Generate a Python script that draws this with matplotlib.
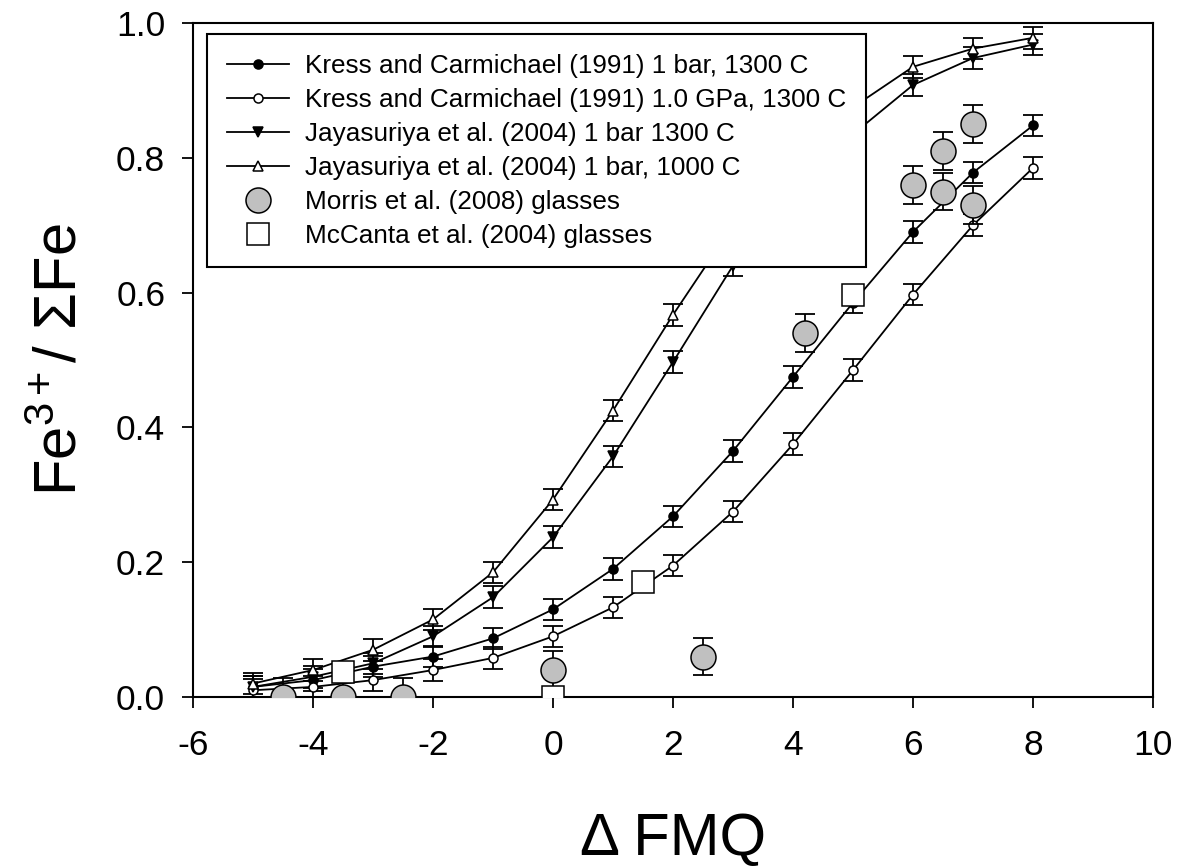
import matplotlib as mpl
mpl.use('Agg')
import matplotlib.pyplot as plt
import numpy as np

plt.rcParams['font.family'] = ['Liberation Sans', 'DejaVu Sans']
plt.rcParams['mathtext.fontset'] = 'custom'
plt.rcParams['mathtext.rm'] = 'Liberation Sans'
plt.rcParams['mathtext.it'] = 'Liberation Sans:italic'
plt.rcParams['axes.unicode_minus'] = False

# Fe3+/sum Fe vs delta FMQ
dfmq = [-5, -4, -3, -2, -1, 0, 1, 2, 3, 4, 5, 6, 7, 8]
kc_1bar = [0.015, 0.025, 0.045, 0.06, 0.087, 0.13, 0.19, 0.268, 0.365, 0.475, 0.585, 0.69, 0.778, 0.848]
kc_1gpa = [0.01, 0.015, 0.025, 0.04, 0.058, 0.09, 0.133, 0.195, 0.275, 0.375, 0.485, 0.597, 0.70, 0.785]
jay_1300 = [0.015, 0.03, 0.05, 0.09, 0.148, 0.237, 0.357, 0.497, 0.64, 0.755, 0.835, 0.908, 0.948, 0.968]
jay_1000 = [0.02, 0.04, 0.07, 0.115, 0.185, 0.293, 0.425, 0.567, 0.70, 0.80, 0.875, 0.935, 0.962, 0.978]
line_err = 0.016

morris_x = [-4.5, -3.5, -2.5, 0.0, 2.5, 4.2, 6.0, 6.5, 6.5, 7.0, 7.0]
morris_y = [0.0, 0.0, 0.0, 0.04, 0.06, 0.54, 0.76, 0.75, 0.81, 0.85, 0.73]
morris_err = 0.028

mccanta_x = [-3.5, 0.0, 1.5, 5.0]
mccanta_y = [0.037, 0.0, 0.17, 0.597]

labels = ["Kress and Carmichael (1991) 1 bar, 1300 C",
          "Kress and Carmichael (1991) 1.0 GPa, 1300 C",
          "Jayasuriya et al. (2004) 1 bar 1300 C",
          "Jayasuriya et al. (2004) 1 bar, 1000 C",
          "Morris et al. (2008) glasses",
          "McCanta et al. (2004) glasses"]

fig = plt.figure(figsize=(11.81, 8.66), dpi=100)
ax = fig.add_axes([193 / 1181, 169 / 866, 960 / 1181, 674 / 866])

series = [(kc_1bar, 'o', 'black', 6.5),
          (kc_1gpa, 'o', 'white', 6.5),
          (jay_1300, 'v', 'black', 7),
          (jay_1000, '^', 'white', 7)]

for (vals, mk, fc, ms), lab in zip(series, labels[:4]):
    ax.errorbar(dfmq, vals, yerr=line_err, fmt='none', ecolor='black',
                elinewidth=1.3, capsize=7, capthick=1.3, zorder=2)
    ax.plot(dfmq, vals, color='black', lw=1.3, marker=mk, ms=ms,
            mfc=fc, mec='black', mew=1.1, label=lab, zorder=3)

ax.errorbar(morris_x, morris_y, yerr=morris_err, fmt='none', ecolor='black',
            elinewidth=1.3, capsize=7, capthick=1.3, zorder=4)
ax.plot(morris_x, morris_y, ls='none', marker='o', ms=18, mfc='#c0c0c0',
        mec='black', mew=1.1, label=labels[4], zorder=5)
ax.plot(mccanta_x, mccanta_y, ls='none', marker='s', ms=16, mfc='white',
        mec='black', mew=1.1, label=labels[5], zorder=5)

ax.set_xlim(-6, 10)
ax.set_ylim(0, 1.0)
ax.set_xticks(np.arange(-6, 11, 2))
ax.set_yticks(np.arange(0, 1.01, 0.2))
ax.set_yticklabels(['%.1f' % v for v in np.arange(0, 1.01, 0.2)])
ax.tick_params(direction='out', length=8, width=1.3, labelsize=25.5)
ax.tick_params(axis='x', pad=15)
ax.tick_params(axis='y', pad=12)
for sp in ax.spines.values():
    sp.set_linewidth(1.5)

ax.set_xlabel('\u0394 FMQ', fontsize=43, labelpad=36)
ax.set_ylabel('Fe$^{\\mathregular{3+}}$/ \u03a3Fe', fontsize=43, labelpad=20)

leg = ax.legend(loc='upper left', bbox_to_anchor=(0.0146, 0.983), fontsize=18.8,
                frameon=True, fancybox=False, edgecolor='black', framealpha=1,
                handlelength=2.4, handletextpad=0.6, labelspacing=0.38,
                borderpad=0.75, borderaxespad=0, numpoints=1, markerscale=1.0)
leg.get_frame().set_linewidth(1.5)
leg.set_zorder(10)

fig.savefig('out.png', dpi=100)
